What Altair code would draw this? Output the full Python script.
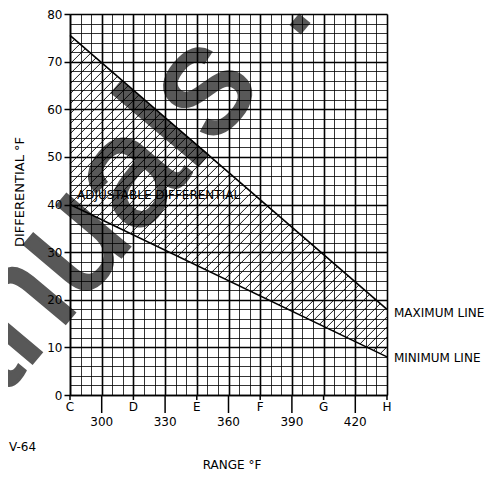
import altair as alt
import pandas as pd
import numpy as np

# ---- data ----
RANGE_ENDS = [285, 435]          # range (deg F) at letters C and H
MAX_LINE = [75.5, 18.0]          # differential at C and H, maximum line
MIN_LINE = [40.0, 8.0]           # differential at C and H, minimum line
LETTER_VALUES = [285, 315, 345, 375, 405, 435]
LETTERS = ["C", "D", "E", "F", "G", "H"]
NUMBER_TICKS = [300, 330, 360, 390, 420]
X_GRID = list(range(285, 436, 5))
Y_GRID = list(range(0, 81, 2))

W, H = 317, 381
FONT = "DejaVu Sans"

xs = alt.Scale(domain=RANGE_ENDS, nice=False, zero=False)
ys = alt.Scale(domain=[0, 80], nice=False)

# ---- hatch lines (45 deg on screen) clipped between min and max lines ----
span = RANGE_ENDS[1] - RANGE_ENDS[0]
s = (W / span) / (H / 80.0)
m_max = (MAX_LINE[1] - MAX_LINE[0]) / span
m_min = (MIN_LINE[1] - MIN_LINE[0]) / span
step_x = 10.0 / (W / span)
rows = []
a = MIN_LINE[1] - s * span
k = 0
while a < MAX_LINE[0]:
    t0 = 0.0 if a >= MIN_LINE[0] else (MIN_LINE[0] - a) / (s - m_min)
    t1 = min(span, (MAX_LINE[0] - a) / (s - m_max))
    if t0 < t1 and t0 <= span:
        for t in (t0, t1):
            rows.append({"id": k, "x": RANGE_ENDS[0] + t, "y": a + s * t})
    k += 1
    a += s * step_x
hatch_df = pd.DataFrame(rows)

lines_df = pd.DataFrame({
    "x": RANGE_ENDS * 2,
    "y": MAX_LINE + MIN_LINE,
    "line": ["max", "max", "min", "min"],
})

x_axis = alt.Axis(values=X_GRID, grid=True, labels=False, ticks=False, title=None,
                  gridColor="black", zindex=1,
                  gridWidth={"condition": {"test": "(datum.value - 285) % 15 === 0", "value": 1.6}, "value": 0.8},
                  domainColor="black", domainWidth=1.5)
y_axis = alt.Axis(values=Y_GRID, grid=True, title=None, gridColor="black", zindex=1,
                  gridWidth={"condition": {"test": "datum.value % 10 === 0", "value": 1.6}, "value": 0.8},
                  tickSize={"condition": {"test": "datum.value % 10 === 0", "value": 6}, "value": 0},
                  tickColor="black", tickWidth=1.5,
                  labelExpr="datum.value % 10 === 0 ? datum.label : ''",
                  labelFont=FONT, labelFontSize=12, labelColor="black", labelPadding=2,
                  domainColor="black", domainWidth=1.5)

X = lambda f: alt.X(f, scale=xs, axis=x_axis)
Y = lambda f: alt.Y(f, scale=ys, axis=y_axis)

hatch = alt.Chart(hatch_df).mark_line(color="black", strokeWidth=0.9).encode(
    x=X("x:Q"), y=Y("y:Q"), detail="id:N")

bounds = alt.Chart(lines_df).mark_line(color="black", strokeWidth=1.6).encode(
    x=X("x:Q"), y=Y("y:Q"), detail="line:N")

num_ticks = alt.Chart(pd.DataFrame({"x": NUMBER_TICKS})).mark_rule(color="black", strokeWidth=1.5).encode(
    x=X("x:Q"), y=alt.value(H), y2=alt.value(H + 18))
let_ticks = alt.Chart(pd.DataFrame({"x": LETTER_VALUES})).mark_rule(color="black", strokeWidth=1.5).encode(
    x=X("x:Q"), y=alt.value(H), y2=alt.value(H + 5))

letters = alt.Chart(pd.DataFrame({"x": LETTER_VALUES, "t": LETTERS})).mark_text(
    font=FONT, fontSize=12, color="black", baseline="middle").encode(
    x=X("x:Q"), y=alt.value(H + 12), text="t:N")
numbers = alt.Chart(pd.DataFrame({"x": NUMBER_TICKS, "t": [str(v) for v in NUMBER_TICKS]})).mark_text(
    font=FONT, fontSize=12, color="black", baseline="middle").encode(
    x=X("x:Q"), y=alt.value(H + 27), text="t:N")

ANNOT = pd.DataFrame({
    "x": [288.3, 438.3, 438.3],
    "y": [41.9, 17.3, 7.8],
    "t": ["ADJUSTABLE DIFFERENTIAL", "MAXIMUM LINE", "MINIMUM LINE"],
})
annots = alt.Chart(ANNOT).mark_text(font=FONT, fontSize=12, color="black", align="left",
                                    baseline="middle").encode(
    x=X("x:Q"), y=Y("y:Q"), text="t:N")

one = pd.DataFrame({"a": [0]})
x_title = alt.Chart(one).mark_text(font=FONT, fontSize=12, color="black", baseline="middle").encode(
    x=alt.value(162), y=alt.value(451), text=alt.value("RANGE  °F"))
y_title = alt.Chart(one).mark_text(font=FONT, fontSize=13, color="black", baseline="middle", angle=270).encode(
    x=alt.value(-50), y=alt.value(178), text=alt.value("DIFFERENTIAL  °F"))
fig_id = alt.Chart(one).mark_text(font=FONT, fontSize=12, color="black", baseline="middle", align="left").encode(
    x=alt.value(-61), y=alt.value(433), text=alt.value("V-64"))

wm = alt.Chart(one).mark_text(font="Liberation Sans", fontSize=155, color="#585858", align="left",
                              baseline="alphabetic", angle=310, stroke="#585858", strokeWidth=3).encode(
    x=alt.value(-183), y=alt.value(522), text=alt.value("manuals"))
wm_dot = alt.Chart(one).mark_point(shape="square", filled=True, size=225, angle=40, color="#585858",
                                   opacity=1).encode(x=alt.value(230), y=alt.value(10))

chart = alt.layer(wm, wm_dot, hatch, bounds, num_ticks, let_ticks, letters, numbers, annots,
                  x_title, y_title, fig_id).properties(
    width=W, height=H,
    padding={"left": 62, "top": 6, "right": 106, "bottom": 77},
    autosize=alt.AutoSizeParams(type="none"),
).configure_view(stroke="black", strokeWidth=1.5).configure(background="white")

chart.save("out.html", embed_options={"renderer": "svg", "actions": False})
